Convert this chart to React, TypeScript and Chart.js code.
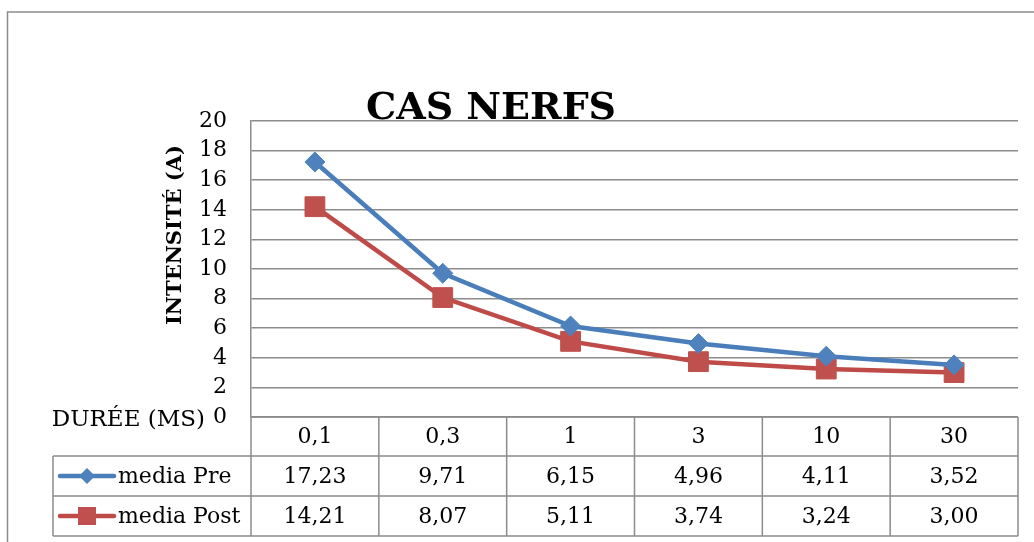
import React, { useEffect, useRef } from "react";
import { Chart, registerables } from "chart.js";

Chart.register(...registerables);

const categories = ["0,1", "0,3", "1", "3", "10", "30"];
const seriesNames = ["media Pre", "media Post"];
const mediaPre = [17.23, 9.71, 6.15, 4.96, 4.11, 3.52];
const mediaPost = [14.21, 8.07, 5.11, 3.74, 3.24, 3.0];
const yTicks = [0, 2, 4, 6, 8, 10, 12, 14, 16, 18, 20];

const BLUE = "#4A7EBB";
const BLUE_FILL = "#4F81BD";
const RED = "#BE4B48";
const RED_FILL = "#C0504D";
const GRID = "#8c8c8c";
const FONT = "'DejaVu Serif', serif";

const fmt = (v: number) => v.toFixed(2).replace(".", ",");

const decorPlugin = {
  id: "decor",
  afterDraw(chart: any) {
    const ctx: CanvasRenderingContext2D = chart.ctx;
    const area = chart.chartArea;
    const xs = chart.scales.x;
    const n = categories.length;
    const colW = (area.right - area.left) / n;
    const rowH = 40;
    const headTop = area.bottom;
    const r1 = headTop + 39;
    const r2 = r1 + rowH;
    const r3 = r2 + rowH;
    const legLeft = 53;

    ctx.save();
    // outer frame
    ctx.strokeStyle = GRID;
    ctx.lineWidth = 1.5;
    ctx.beginPath();
    ctx.moveTo(7.5, 542);
    ctx.lineTo(7.5, 12);
    ctx.lineTo(1034, 12);
    ctx.stroke();

    // table lines
    ctx.beginPath();
    ctx.moveTo(area.left, headTop);
    ctx.lineTo(area.left, r3);
    for (let i = 1; i <= n; i++) {
      const x = area.left + colW * i;
      ctx.moveTo(x, headTop);
      ctx.lineTo(x, r3);
    }
    ctx.moveTo(area.left, headTop);
    ctx.lineTo(area.right, headTop);
    [r1, r2, r3].forEach((y) => {
      ctx.moveTo(legLeft, y);
      ctx.lineTo(area.right, y);
    });
    ctx.moveTo(legLeft, r1);
    ctx.lineTo(legLeft, r3);
    ctx.stroke();

    // table text
    ctx.fillStyle = "#000";
    ctx.font = `22px ${FONT}`;
    ctx.textAlign = "center";
    ctx.textBaseline = "middle";
    categories.forEach((c, i) => {
      const cx = xs.getPixelForValue(i);
      ctx.fillText(c, cx, (headTop + r1) / 2 + 1);
      ctx.fillText(fmt(mediaPre[i]), cx, (r1 + r2) / 2 + 1);
      ctx.fillText(fmt(mediaPost[i]), cx, (r2 + r3) / 2 + 1);
    });

    // legend keys
    const keyY1 = (r1 + r2) / 2;
    const keyY2 = (r2 + r3) / 2;
    ctx.lineWidth = 4.5;
    ctx.lineCap = "round";
    ctx.strokeStyle = BLUE;
    ctx.beginPath();
    ctx.moveTo(60, keyY1);
    ctx.lineTo(114, keyY1);
    ctx.stroke();
    ctx.fillStyle = BLUE_FILL;
    ctx.beginPath();
    ctx.moveTo(87, keyY1 - 8);
    ctx.lineTo(95, keyY1);
    ctx.lineTo(87, keyY1 + 8);
    ctx.lineTo(79, keyY1);
    ctx.closePath();
    ctx.fill();
    ctx.strokeStyle = RED;
    ctx.beginPath();
    ctx.moveTo(60, keyY2);
    ctx.lineTo(114, keyY2);
    ctx.stroke();
    ctx.fillStyle = RED_FILL;
    ctx.fillRect(78, keyY2 - 9, 18, 18);

    ctx.fillStyle = "#000";
    ctx.textAlign = "left";
    ctx.font = `22px ${FONT}`;
    ctx.fillText(seriesNames[0], 118, keyY1 + 1);
    ctx.fillText(seriesNames[1], 118, keyY2 + 1);

    // title
    ctx.font = `bold 38px ${FONT}`;
    ctx.textAlign = "center";
    ctx.textBaseline = "alphabetic";
    ctx.fillText("CAS NERFS", 491, 119);

    // x label
    ctx.font = `23px ${FONT}`;
    ctx.textAlign = "right";
    ctx.fillText("DURÉE (MS)", 205, 426);

    // y title
    ctx.save();
    ctx.translate(181, 235);
    ctx.rotate(-Math.PI / 2);
    ctx.font = `bold 21px ${FONT}`;
    ctx.textAlign = "center";
    ctx.textBaseline = "alphabetic";
    ctx.fillText("INTENSITÉ (A)", 0, 0);
    ctx.restore();

    ctx.restore();
  },
};

export default function App() {
  const ref = useRef<HTMLCanvasElement | null>(null);
  useEffect(() => {
    if (!ref.current) return;
    const chart = new Chart(ref.current, {
      type: "line",
      data: {
        labels: categories,
        datasets: [
          {
            label: seriesNames[0],
            data: mediaPre,
            borderColor: BLUE,
            backgroundColor: BLUE_FILL,
            borderWidth: 4.5,
            pointStyle: "rectRot",
            pointRadius: 10,
            pointBackgroundColor: BLUE_FILL,
            pointBorderColor: BLUE_FILL,
            pointBorderWidth: 1,
            tension: 0,
          },
          {
            label: seriesNames[1],
            data: mediaPost,
            borderColor: RED,
            backgroundColor: RED_FILL,
            borderWidth: 4.5,
            pointStyle: "rect",
            pointRadius: 14,
            pointBackgroundColor: RED_FILL,
            pointBorderColor: RED_FILL,
            pointBorderWidth: 1,
            tension: 0,
          },
        ],
      },
      options: {
        animation: false,
        responsive: false,
        devicePixelRatio: 1,
        layout: { padding: { top: 121, right: 16, bottom: 125, left: 0 } },
        plugins: {
          legend: { display: false },
          title: { display: false },
          tooltip: { enabled: false },
        },
        scales: {
          x: {
            type: "category",
            display: false,
            offset: true,
          },
          y: {
            min: 0,
            max: 20,
            afterFit: (s: any) => {
              s.width = 251;
            },
            afterBuildTicks: (s: any) => {
              s.ticks = yTicks.map((v) => ({ value: v }));
            },
            ticks: {
              padding: 24,
              color: "#000",
              font: { family: "'DejaVu Serif', serif", size: 22 },
            },
            grid: {
              color: GRID,
              lineWidth: 1.5,
              drawTicks: false,
            },
            border: { display: true, color: GRID, width: 1.5 },
          },
        },
      },
      plugins: [decorPlugin],
    });
    return () => chart.destroy();
  }, []);
  return (
    <canvas
      ref={ref}
      width={1034}
      height={542}
      style={{ position: "absolute", left: 0, top: 0, display: "block", background: "#fff" }}
    />
  );
}
